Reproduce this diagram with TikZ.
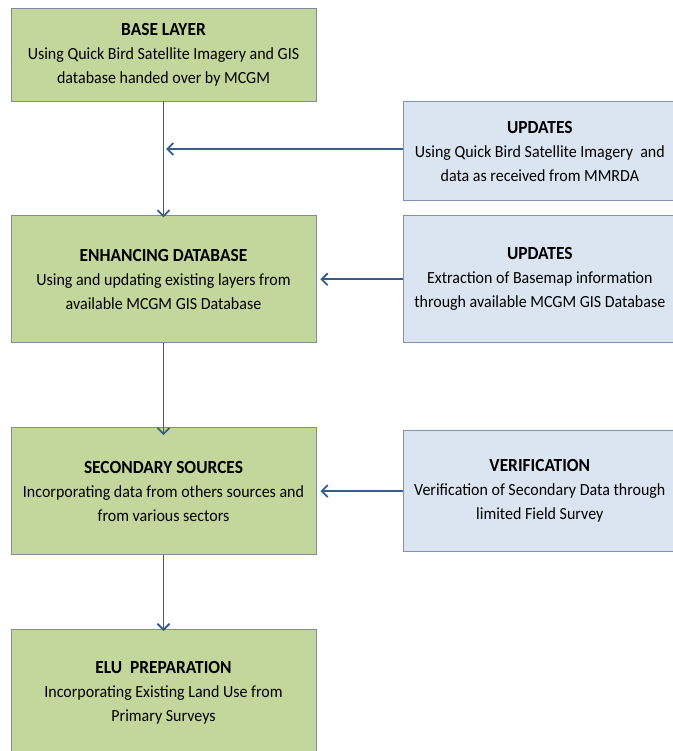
\documentclass[tikz,border=0pt]{standalone}
\usepackage{fontspec}
\setmainfont[FakeStretch=0.94]{Carlito}
\usepackage{tikz}
\usetikzlibrary{arrows.meta,positioning}

\definecolor{greenfill}{RGB}{195,214,155}
\definecolor{greenline}{RGB}{128,140,150}
\definecolor{bluefill}{RGB}{219,229,241}
\definecolor{blueline}{RGB}{125,148,178}
\definecolor{arrowblue}{RGB}{56,93,138}

\newcommand{\boxtitle}[1]{{\fontsize{18.5}{24}\selectfont\textbf{#1}}}

\tikzset{
  stage/.style={rectangle,draw=greenline,fill=greenfill,line width=0.8pt,
    minimum width=305pt,align=center,font=\fontsize{17}{24}\selectfont},
  extra/.style={rectangle,draw=blueline,fill=bluefill,line width=0.8pt,
    minimum width=272pt,align=center,font=\fontsize{17}{24}\selectfont},
  flow/.style={-{Straight Barb[length=6pt,width=12pt,line width=1.8pt]},draw=arrowblue,line width=1.8pt}
}

\begin{document}
\begin{tikzpicture}[x=1pt,y=-1pt]
        \useasboundingbox (0,0) rectangle (672,751);
        \node[stage,minimum height=93pt]  (base) at (163.5,54.5)
              {\boxtitle{BASE LAYER}\\Using Quick Bird Satellite Imagery and GIS\\database handed over by MCGM};
        \node[stage,minimum height=127pt] (enhance)   [below=114pt of base]
              {\boxtitle{ENHANCING DATABASE}\\Using and updating existing layers from\\available MCGM GIS Database};
        \node[stage,minimum height=127pt] (secondary) [below=84pt of enhance]
              {\boxtitle{SECONDARY SOURCES}\\Incorporating data from others sources and\\from various sectors};
        \node[stage,minimum height=127pt] (elu)       [below=74pt of secondary]
              {\boxtitle{ELU\ \ PREPARATION}\\Incorporating Existing Land Use from\\Primary Surveys};
        \node[extra,minimum height=99pt,anchor=north west] (updA) at ([xshift=87pt]base.south east)
              {\boxtitle{UPDATES}\\Using Quick Bird Satellite Imagery\ \ and\\data as received from MMRDA};
        \node[extra,minimum height=127pt] (updB) [right=87pt of enhance]
              {\boxtitle{UPDATES}\\Extraction of Basemap information\\through available MCGM GIS Database};
        \node[extra,minimum height=121pt] (verify) [right=87pt of secondary]
              {\boxtitle{VERIFICATION}\\Verification of Secondary Data through\\limited Field Survey};
        \coordinate (join) at (166,149);
        \draw[flow] (base)      -- ([yshift=-2pt]enhance.north);
        \draw[flow] (enhance)   -- ([yshift=-8pt]secondary.north);
        \draw[flow] (secondary) -- ([yshift=-2pt]elu.north);
        \draw[flow] (updA.west |- join) -- (join);
        \draw[flow] (updB)      -- ([xshift=4pt]enhance.east);
        \draw[flow] (verify)    -- ([xshift=4pt]secondary.east);
\end{tikzpicture}
\end{document}
